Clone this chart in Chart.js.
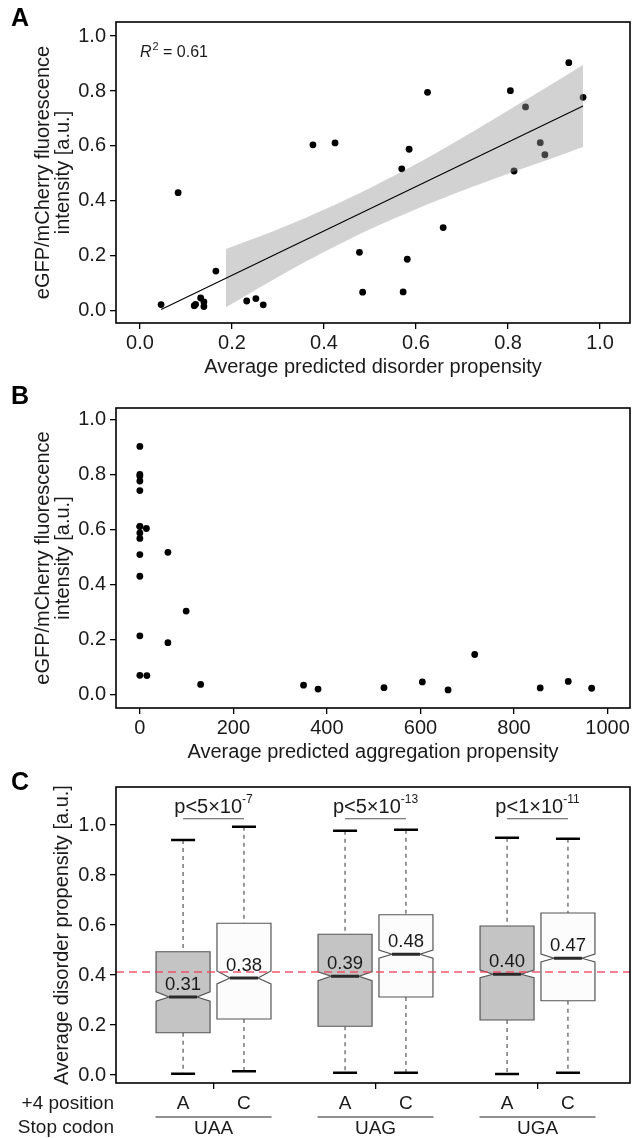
<!DOCTYPE html>
<html>
<head>
<meta charset="utf-8">
<script src="https://cdn.jsdelivr.net/npm/chart.js@4.4.1/dist/chart.umd.min.js"></script>
<style>
  body { margin: 0; background: #fff; }
  #wrap { position: relative; width: 634px; height: 1138px; }
  canvas { position: absolute; left: 0; }
</style>
</head>
<body>
<div id="wrap">
  <canvas id="chartA" width="634" height="385" style="top:0px"></canvas>
  <canvas id="chartB" width="634" height="390" style="top:385px"></canvas>
  <canvas id="chartC" width="634" height="373" style="top:765px"></canvas>
</div>
<script>
// ---- data ----
const disorder = [0.932, 0.805, 0.625, 0.963, 0.838, 0.870, 0.424, 0.376, 0.585, 0.880,
  0.569, 0.813, 0.083, 0.659, 0.477, 0.581, 0.165, 0.572, 0.484, 0.132,
  0.252, 0.232, 0.139, 0.046, 0.268, 0.121, 0.118, 0.139];
const aggregation = [0, 0, 0, 0, 0, 0, 0, 14, 0, 0,
  60, 0, 0, 99, 0, 60, 716, 0, 15, 916,
  604, 130, 350, 856, 966, 522, 381, 659];
const intensity = [0.903, 0.801, 0.795, 0.777, 0.742, 0.612, 0.611, 0.604, 0.588, 0.568,
  0.517, 0.509, 0.430, 0.303, 0.213, 0.188, 0.145, 0.069, 0.068, 0.047,
  0.045, 0.036, 0.033, 0.023, 0.022, 0.024, 0.019, 0.016];

// linear fit and its confidence band (panel A)
const fitX = [0.046, 0.963];
const fitY = [0.005, 0.745];
const bandX = [0.187, 0.3, 0.4, 0.5, 0.6, 0.7, 0.8, 0.9, 0.963];
const bandUpper = [0.225, 0.297, 0.368, 0.447, 0.534, 0.629, 0.729, 0.830, 0.895];
const bandLower = [0.013, 0.123, 0.214, 0.297, 0.370, 0.437, 0.499, 0.558, 0.596];
const rSquared = '0.61';

// panel C: notched boxes, order UAA-A, UAA-C, UAG-A, UAG-C, UGA-A, UGA-C
const stopCodons = ['UAA', 'UAG', 'UGA'];
const positions = ['A', 'C'];
const whiskLow = [0.005, 0.015, 0.009, 0.009, 0.004, 0.009];
const q1 = [0.169, 0.224, 0.195, 0.312, 0.220, 0.297];
const median = [0.312, 0.388, 0.395, 0.483, 0.403, 0.467];
const q3 = [0.493, 0.607, 0.563, 0.641, 0.596, 0.648];
const whiskHigh = [0.940, 0.993, 0.977, 0.981, 0.949, 0.945];
const notchLow = [0.295, 0.364, 0.377, 0.467, 0.389, 0.452];
const notchHigh = [0.333, 0.416, 0.413, 0.500, 0.420, 0.484];
const medianLabels = ['0.31', '0.38', '0.39', '0.48', '0.40', '0.47'];
const pMain = ['p<5\u00d710', 'p<5\u00d710', 'p<1\u00d710'];
const pExp = ['-7', '-13', '-11'];
const overallMean = 0.412;

// ---- styling ----
const FONT = "'Liberation Sans', Arial, Helvetica, sans-serif";
const INK = '#1a1a1a';

function yAxis(min, max, title, titlePad) {
  return {
    type: 'linear', min, max,
    ticks: { stepSize: 0.2, includeBounds: false, autoSkip: false, padding: 4, color: INK,
      font: { family: FONT, size: 20 }, callback: v => v.toFixed(1) },
    grid: { drawOnChartArea: false, drawTicks: true, tickLength: 6, color: '#000', lineWidth: 1.3 },
    border: { display: false },
    title: { display: true, text: title, color: INK,
      font: { family: FONT, size: 20, lineHeight: 1.0 }, padding: { top: titlePad, bottom: 0 } },
    afterFit: s => { s.width = 116; }
  };
}

function xAxis(min, max, step, title, height, titlePad, fmt) {
  return {
    type: 'linear', min, max,
    ticks: { stepSize: step, includeBounds: false, autoSkip: false, maxRotation: 0, padding: 2,
      color: INK, font: { family: FONT, size: 20 }, callback: fmt },
    grid: { drawOnChartArea: false, drawTicks: true, tickLength: 6, color: '#000', lineWidth: 1.3 },
    border: { display: false },
    title: { display: !!title, text: title, color: INK,
      font: { family: FONT, size: 20, lineHeight: 1.2 }, padding: { top: 0, bottom: titlePad } },
    afterFit: s => { s.height = height; }
  };
}

const framePlugin = {
  id: 'frame',
  afterDraw(chart) {
    const { ctx, chartArea: a } = chart;
    ctx.save();
    ctx.strokeStyle = '#000';
    ctx.lineWidth = 1.6;
    ctx.strokeRect(a.left, a.top, a.right - a.left, a.bottom - a.top);
    ctx.restore();
  }
};

function panelLetter(letter, y) {
  return {
    id: 'letter' + letter,
    afterDraw(chart) {
      const ctx = chart.ctx;
      ctx.save();
      ctx.font = `bold 25px ${FONT}`;
      ctx.fillStyle = '#000';
      ctx.textAlign = 'left';
      ctx.textBaseline = 'middle';
      ctx.fillText(letter, 11, y);
      ctx.restore();
    }
  };
}

const baseOpts = {
  responsive: false,
  animation: false,
  devicePixelRatio: 1,
  plugins: { legend: { display: false }, tooltip: { enabled: false } }
};

// ---- panel A ----
const r2Plugin = {
  id: 'r2',
  afterDraw(chart) {
    const { ctx, scales: { x, y } } = chart;
    const px = x.getPixelForValue(0), py = y.getPixelForValue(0.94);
    ctx.save();
    ctx.fillStyle = INK;
    ctx.textBaseline = 'middle';
    ctx.textAlign = 'left';
    ctx.font = `italic 16px ${FONT}`;
    ctx.fillText('R', px, py);
    let w = ctx.measureText('R').width;
    ctx.font = `11px ${FONT}`;
    ctx.fillText('2', px + w + 1, py - 6);
    w += 1 + ctx.measureText('2').width;
    ctx.font = `16px ${FONT}`;
    ctx.fillText(' = ' + rSquared, px + w, py);
    ctx.restore();
  }
};

new Chart(document.getElementById('chartA'), {
  type: 'scatter',
  data: {
    datasets: [
      {
        type: 'line', order: 0,
        data: fitX.map((v, i) => ({ x: v, y: fitY[i] })),
        borderColor: '#000', borderWidth: 1.1, pointRadius: 0, fill: false
      },
      {
        type: 'line', order: 1,
        data: bandX.map((v, i) => ({ x: v, y: bandUpper[i] })),
        borderWidth: 0, pointRadius: 0, tension: 0.3,
        fill: '+1', backgroundColor: 'rgba(150,150,150,0.43)'
      },
      {
        type: 'line', order: 1,
        data: bandX.map((v, i) => ({ x: v, y: bandLower[i] })),
        borderWidth: 0, pointRadius: 0, tension: 0.3, fill: false
      },
      {
        order: 2,
        data: disorder.map((v, i) => ({ x: v, y: intensity[i] })),
        pointRadius: 3.4, pointBackgroundColor: '#000', pointBorderWidth: 0
      }
    ]
  },
  options: {
    ...baseOpts,
    layout: { padding: { top: 22, right: 4, left: 0, bottom: 0 } },
    scales: {
      x: xAxis(-0.052, 1.065, 0.2, 'Average predicted disorder propensity', 62, 6, v => v.toFixed(1)),
      y: yAxis(-0.044, 1.051, ['eGFP/mCherry fluorescence', 'intensity [a.u.]'], 33)
    }
  },
  plugins: [framePlugin, r2Plugin, panelLetter('A', 19)]
});

// ---- panel B ----
new Chart(document.getElementById('chartB'), {
  type: 'scatter',
  data: {
    datasets: [{
      data: aggregation.map((v, i) => ({ x: v, y: intensity[i] })),
      pointRadius: 3.4, pointBackgroundColor: '#000', pointBorderWidth: 0
    }]
  },
  options: {
    ...baseOpts,
    layout: { padding: { top: 23, right: 4, left: 0, bottom: 0 } },
    scales: {
      x: xAxis(-51, 1048, 200, 'Average predicted aggregation propensity', 67, 11, v => String(v)),
      y: yAxis(-0.05, 1.043, ['eGFP/mCherry fluorescence', 'intensity [a.u.]'], 33)
    }
  },
  plugins: [framePlugin, panelLetter('B', 12)]
});

// ---- panel C ----
const SIDE = 0.188; // offset of A / C box from group centre (axis units)

const boxPlugin = {
  id: 'notchedBoxes',
  afterDatasetsDraw(chart) {
    const { ctx, chartArea: area, scales: { x, y } } = chart;
    const halfW = 27, inset = 13, capHalf = 12;
    ctx.save();

    median.forEach((med, i) => {
      const g = Math.floor(i / 2) + 1;
      const cx = x.getPixelForValue(g + (i % 2 ? SIDE : -SIDE));
      const l = cx - halfW, r = cx + halfW;
      const py = v => y.getPixelForValue(v);

      // whiskers
      ctx.setLineDash([4, 4]);
      ctx.strokeStyle = '#333';
      ctx.lineWidth = 1;
      ctx.beginPath();
      ctx.moveTo(cx, py(whiskHigh[i])); ctx.lineTo(cx, py(q3[i]));
      ctx.moveTo(cx, py(q1[i])); ctx.lineTo(cx, py(whiskLow[i]));
      ctx.stroke();
      ctx.setLineDash([]);

      // caps
      ctx.strokeStyle = '#000';
      ctx.lineWidth = 2.6;
      ctx.beginPath();
      ctx.moveTo(cx - capHalf, py(whiskHigh[i])); ctx.lineTo(cx + capHalf, py(whiskHigh[i]));
      ctx.moveTo(cx - capHalf, py(whiskLow[i])); ctx.lineTo(cx + capHalf, py(whiskLow[i]));
      ctx.stroke();

      // notched box
      ctx.beginPath();
      ctx.moveTo(l, py(q3[i]));
      ctx.lineTo(r, py(q3[i]));
      ctx.lineTo(r, py(notchHigh[i]));
      ctx.lineTo(r - inset, py(med));
      ctx.lineTo(r, py(notchLow[i]));
      ctx.lineTo(r, py(q1[i]));
      ctx.lineTo(l, py(q1[i]));
      ctx.lineTo(l, py(notchLow[i]));
      ctx.lineTo(l + inset, py(med));
      ctx.lineTo(l, py(notchHigh[i]));
      ctx.closePath();
      ctx.fillStyle = i % 2 ? '#fcfcfc' : '#c4c4c4';
      ctx.fill();
      ctx.strokeStyle = '#555';
      ctx.lineWidth = 1.2;
      ctx.stroke();

      // median
      ctx.strokeStyle = '#2a2a2a';
      ctx.lineWidth = 3;
      ctx.beginPath();
      ctx.moveTo(l + inset, py(med)); ctx.lineTo(r - inset, py(med));
      ctx.stroke();
    });

    // overall mean line
    const my = y.getPixelForValue(overallMean);
    ctx.strokeStyle = 'rgba(240,70,95,0.9)';
    ctx.lineWidth = 1.3;
    ctx.setLineDash([8, 5]);
    ctx.beginPath();
    ctx.moveTo(area.left, my); ctx.lineTo(area.right, my);
    ctx.stroke();
    ctx.setLineDash([]);

    // median labels
    ctx.fillStyle = INK;
    ctx.font = `18.5px ${FONT}`;
    ctx.textAlign = 'center';
    ctx.textBaseline = 'middle';
    median.forEach((med, i) => {
      const g = Math.floor(i / 2) + 1;
      const cx = x.getPixelForValue(g + (i % 2 ? SIDE : -SIDE));
      ctx.fillText(medianLabels[i], cx, y.getPixelForValue(med) - 12);
    });

    // p-value brackets
    stopCodons.forEach((c, g) => {
      const xa = x.getPixelForValue(g + 1 - SIDE), xc = x.getPixelForValue(g + 1 + SIDE);
      const ly = y.getPixelForValue(1.025);
      ctx.strokeStyle = '#555';
      ctx.lineWidth = 1.2;
      ctx.beginPath();
      ctx.moveTo(xa, ly); ctx.lineTo(xc, ly);
      ctx.stroke();

      const ty = y.getPixelForValue(1.072);
      ctx.font = `20px ${FONT}`;
      const w1 = ctx.measureText(pMain[g]).width;
      ctx.font = `12px ${FONT}`;
      const w2 = ctx.measureText(pExp[g]).width;
      const start = (xa + xc) / 2 - (w1 + w2) / 2;
      ctx.textAlign = 'left';
      ctx.font = `20px ${FONT}`;
      ctx.fillText(pMain[g], start, ty);
      ctx.font = `12px ${FONT}`;
      ctx.fillText(pExp[g], start + w1, ty - 7);
    });
    ctx.restore();
  }
};

const groupLabelPlugin = {
  id: 'groupLabels',
  afterDraw(chart) {
    const { ctx, scales: { x } } = chart;
    ctx.save();
    ctx.fillStyle = INK;
    ctx.font = `19px ${FONT}`;
    ctx.textBaseline = 'middle';
    ctx.textAlign = 'right';
    ctx.fillText('+4 position', 114, 339);
    ctx.fillText('Stop codon', 114, 363);
    ctx.textAlign = 'center';
    stopCodons.forEach((codon, g) => {
      const gc = x.getPixelForValue(g + 1);
      positions.forEach((p, k) => {
        ctx.fillText(p, x.getPixelForValue(g + 1 + (k ? SIDE : -SIDE)), 339);
      });
      ctx.strokeStyle = '#222';
      ctx.lineWidth = 1.2;
      ctx.beginPath();
      ctx.moveTo(gc - 58, 352); ctx.lineTo(gc + 58, 352);
      ctx.stroke();
      ctx.fillText(codon, gc, 364);
    });
    ctx.restore();
  }
};

new Chart(document.getElementById('chartC'), {
  type: 'scatter',
  data: { datasets: [{ data: [] }] },
  options: {
    ...baseOpts,
    layout: { padding: { top: 22, right: 4, left: 0, bottom: 0 } },
    scales: {
      x: xAxis(0.398, 3.571, 1, '', 55, 0, () => ''),
      y: yAxis(-0.032, 1.152, 'Average disorder propensity [a.u.]', 52)
    }
  },
  plugins: [boxPlugin, framePlugin, groupLabelPlugin, panelLetter('C', 18)]
});
</script>
</body>
</html>
